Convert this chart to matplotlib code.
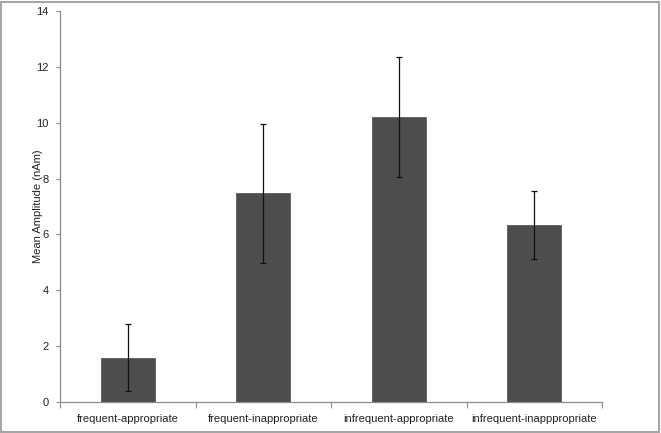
import matplotlib.pyplot as plt
from matplotlib.patches import Rectangle

# données
conditions = ["frequent-appropriate", "frequent-inappropriate",
              "infrequent-appropriate", "infrequent-inapppropriate"]
amplitude = [1.59, 7.47, 10.20, 6.33]
erreur = [1.21, 2.50, 2.16, 1.21]

plt.rcParams['font.family'] = ['Liberation Sans', 'DejaVu Sans']

fig = plt.figure(figsize=(6.61, 4.33), dpi=100)
ax = fig.add_axes([60 / 661, 1 - 402 / 433, 542 / 661, 391 / 433])

x = range(len(conditions))
ax.bar(x, amplitude, width=0.4, color='#4d4d4d', edgecolor='#5a5a5a', linewidth=0.6,
       zorder=2)
ax.errorbar(x, amplitude, yerr=erreur, fmt='none', ecolor='#111111',
            elinewidth=0.9, capsize=2.5, capthick=0.9, zorder=3)

ax.set_xlim(-0.5, len(conditions) - 0.5)
ax.set_ylim(0, 14)
ax.set_yticks(range(0, 15, 2))
ax.set_xticks(list(x))
ax.set_xticklabels(conditions)
ax.set_xticks([i - 0.5 for i in range(len(conditions) + 1)], minor=True)
ax.tick_params(axis='x', which='major', length=0, pad=9, labelsize=8, colors='#222222')
ax.tick_params(axis='x', which='minor', length=4, width=0.8, color='#8c8c8c')
ax.tick_params(axis='y', length=3, width=0.8, color='#8c8c8c', labelsize=8,
               labelcolor='#222222', pad=5)
ax.set_ylabel("Mean Amplitude (nAm)", fontsize=8, color='#222222', labelpad=-5)

for s in ['top', 'right']:
    ax.spines[s].set_visible(False)
for s in ['left', 'bottom']:
    ax.spines[s].set_color('#8c8c8c')
    ax.spines[s].set_linewidth(0.9)

# cadre autour de la figure
fig.patches.append(Rectangle((0.002, 0.003), 0.995, 0.993, transform=fig.transFigure,
                             fill=False, edgecolor='#a6a6a6', linewidth=1.5))

plt.savefig("out.png", dpi=100)
plt.close()
